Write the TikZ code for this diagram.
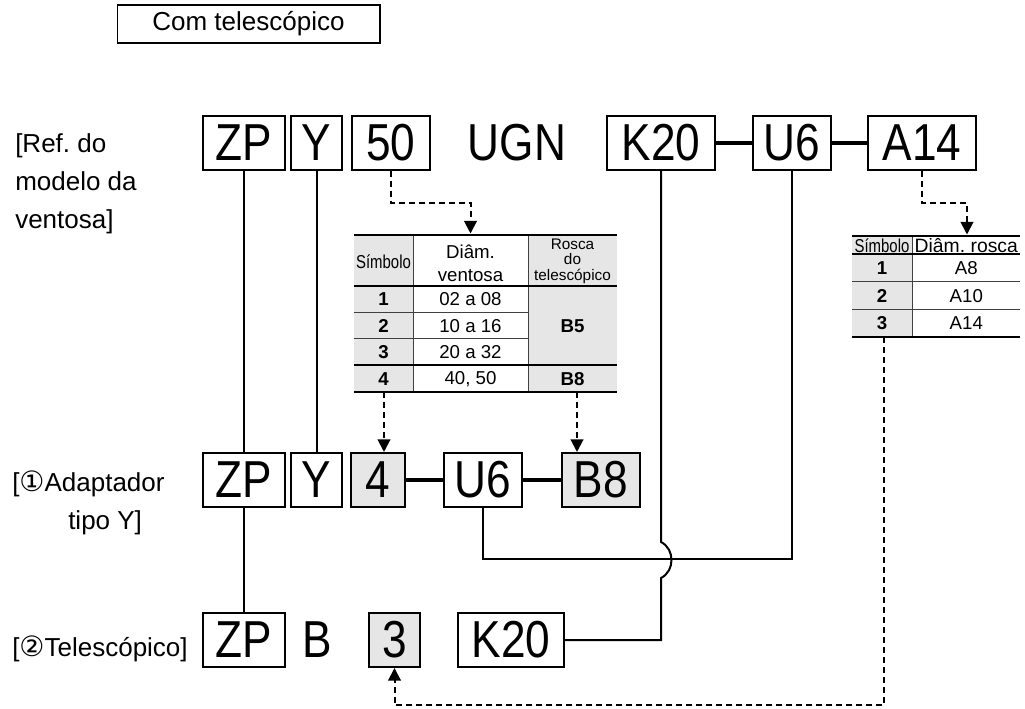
\documentclass[tikz,border=0pt]{standalone}
\usepackage{fontspec}
\setmainfont{Liberation Sans}
\newfontfamily\boxfont[FakeStretch=0.85]{Liberation Sans}
\newfontfamily\narrowfont[FakeStretch=0.8]{Liberation Sans}
\newfontfamily\circfont{DejaVu Sans}
\usetikzlibrary{positioning,arrows.meta}
\definecolor{cellgray}{RGB}{230,230,230}
\frenchspacing

\begin{document}
\begin{tikzpicture}[x=0.75pt, y=-0.75pt,
  code/.style={draw, line width=1.5pt, minimum height=40.5pt, inner xsep=0pt, inner ysep=0pt,
               minimum width=#1, font=\boxfont\fontsize{39}{39}\selectfont},
  code/.default=58pt,
  pick/.style={code=#1, fill=cellgray},
  pick/.default=40pt,
  plain/.style={inner sep=0pt, font=\boxfont\fontsize{39}{39}\selectfont},
  rowlab/.style={inner sep=0pt, align=left, font=\fontsize{19.5}{28.5}\selectfont},
  tab/.style={inner sep=0pt, align=center, font=\fontsize{14}{17}\selectfont},
  tabbold/.style={tab, font=\bfseries\fontsize{14}{17}\selectfont},
  tabnarrow/.style={tab, font=\narrowfont\fontsize{14}{17}\selectfont},
  hairline/.style={line width=0.75pt, black!75},
  link/.style={line width=1.5pt},
  joinbar/.style={line width=3pt},
  dasharr/.style={line width=1.5pt, dash pattern=on 4.5pt off 3pt,
                  -{Triangle[length=9.5pt,width=9.5pt]}}
]
\useasboundingbox (0,0) rectangle (1025,709);
% --- heading -------------------------------------------------------------
\node[draw, line width=1pt, minimum width=197pt, minimum height=28.5pt,
      font=\fontsize{19.5}{19.5}\selectfont] (title) at (248.5,24) {Com telescópico};
% --- row labels ----------------------------------------------------------
\node[rowlab, anchor=west] (labA) at (15,184) {[Ref. do\\modelo da\\ventosa]};
\node[rowlab, anchor=west] (labB) at (12,503)
  {[{\circfont\fontsize{21}{21}\selectfont ①}Adaptador\\\hspace*{42pt}tipo Y]};
\node[rowlab, anchor=base west] (labC) at (12,656)
  {[{\circfont\fontsize{21}{21}\selectfont ②}Telescópico]};
% --- model code row ------------------------------------------------------
\node[code=61.5pt] (zpA) at (244,143) {ZP};
\node[code=38.5pt] (yA)  at (316.5,143) {Y};
\node[code=58pt]   (dmA) at (391,143) {50};
\node[plain] (ugn) at (517,143) {UGN};
\node[code=81pt]   (kA)  at (661,143) {K20};
\node[code=58.5pt] (uA)  at (792,143) {U6};
\node[code=81pt]   (aA)  at (922,143) {A14};
% --- adapter row ---------------------------------------------------------
\node[code=61.5pt] (zpB)  at (244,480) {ZP};
\node[code=38.5pt] (yB)   at (316.5,480) {Y};
\node[pick=40pt]   (symB) at (378,480) {4};
\node[code=58.5pt] (uB)   at (483,480) {U6};
\node[pick=58.5pt] (bB)   at (601,480) {B8};
% --- telescope row -------------------------------------------------------
\node[code=61.5pt] (zpC)  at (244,640) {ZP};
\node[plain] (bC)  at (317,640) {B};
\node[pick=38.5pt] (symC) at (394.5,640) {3};
\node[code=79.5pt] (kC)   at (511,640) {K20};
% --- table: pad diameter -------------------------------------------------
\fill[cellgray] (354,235) rectangle (413,392);
\fill[cellgray] (528,235) rectangle (617,392);
\draw[hairline] (413,235) -- (413,392) (528,235) -- (528,392);
\draw[hairline] (354,312.5) -- (528,312.5) (354,339) -- (528,339);
\draw[line width=1.2pt] (354,286) -- (617,286);
\draw[line width=1.5pt] (354,365.5) -- (617,365.5);
\draw[line width=1pt] (354,392) -- (617,392);
\draw[line width=2.2pt] (354,235) -- (617,235);
\node[tabnarrow] (tA-h1) at (383.5,262) {Símbolo};
\node[tab] (tA-h2) at (470.5,263) {Diâm.\\ventosa};
\node[tab, font=\fontsize{11.5}{11.5}\selectfont] (tA-h3) at (572.5,261) {Rosca\\do\\telescópico};
\foreach \s/\d/\y in {1/02 a 08/299, 2/10 a 16/326, 3/20 a 32/352.5, 4/{40, 50}/379} {
  \node[tabbold] (tA-s\s) at (383.5,\y) {\s};
  \node[tab] (tA-d\s) at (470.5,\y) {\d};
}
\node[tabbold] (tA-b5) at (572.5,326) {B5};
\node[tabbold] (tA-b8) at (572.5,379) {B8};
\coordinate (tA-top2) at (470.5,233.5);
\coordinate (tA-bot1) at (384,392);
\coordinate (tA-bot3) at (577,392);
% --- table: thread size --------------------------------------------------
\fill[cellgray] (852,236) rectangle (912.7,337);
\draw[hairline] (912.7,236) -- (912.7,337);
\draw[hairline] (852,281.7) -- (1020,281.7) (852,309.3) -- (1020,309.3);
\draw[line width=1.2pt] (852,254) -- (1020,254);
\draw[line width=1pt] (852,337) -- (1020,337);
\draw[line width=2.2pt] (852,236) -- (1020,236);
\node[tabnarrow] (tB-h1) at (882,245.5) {Símbolo};
\node[tab, font=\fontsize{14.5}{17}\selectfont] (tB-h2) at (966.3,245.5) {Diâm. rosca};
\foreach \s/\d/\y in {1/A8/268, 2/A10/295.7, 3/A14/323} {
  \node[tabbold] (tB-s\s) at (882,\y) {\s};
  \node[tab] (tB-d\s) at (966.3,\y) {\d};
}
\coordinate (tB-top2) at (967,234.5);
\coordinate (tB-bot1) at (884,337);
% --- solid connectors ----------------------------------------------------
\draw[joinbar] (kA) -- (uA);
\draw[joinbar] (uA) -- (aA);
\draw[joinbar] (symB) -- (uB);
\draw[joinbar] (uB) -- (bB);
\draw[link] (zpA) -- (zpB);
\draw[link] (zpB) -- (zpC);
\draw[link] (yA) -- (yB);
\draw[link] (uA.south) -- ++(0,388) -| (uB.south);
\draw[link] (kA.south) -- ++(0,371) .. controls +(14,7) and +(14,-7) .. ++(0,36) |- (kC.east);
% --- dashed pointers -----------------------------------------------------
\draw[dasharr] (dmA.south) -- ++(0,32) -| (tA-top2);
\draw[dasharr] (aA.south) -- ++(0,32) -| (tB-top2);
\draw[dasharr] (tA-bot1) -- (tA-bot1 |- symB.north);
\draw[dasharr] (tA-bot3) -- (tA-bot3 |- bB.north);
\draw[dasharr] (tB-bot1) -- ++(0,368) -| (symC.south);
\end{tikzpicture}
\end{document}
